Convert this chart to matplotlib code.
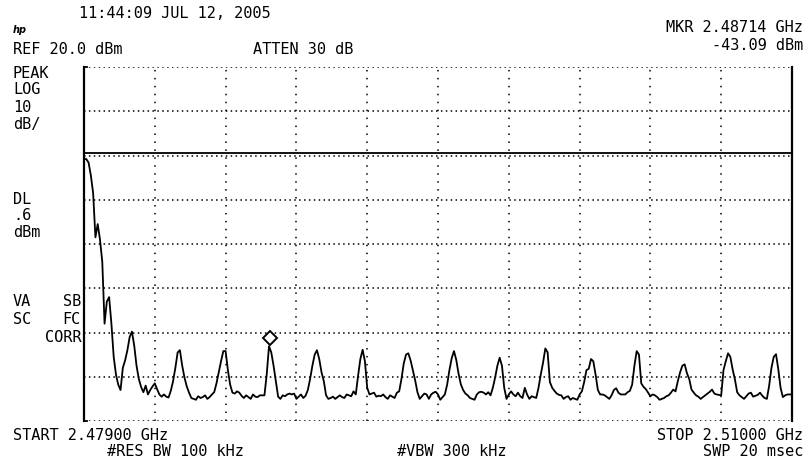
import numpy as np
import matplotlib
matplotlib.use("Agg")
import matplotlib.pyplot as plt
import matplotlib.transforms as mtransforms

# analyzer settings
start_mhz = 2479.0
stop_mhz = 2510.0
ref_dbm = 20.0
db_per_div = 10
n_vdiv = 8
dl_dbm = 0.6
mkr_mhz = 2487.14
mkr_dbm = -43.09

# trace levels (dBm), one point per 0.1 MHz
levels = [
    -0.8, -0.8, -1.6, -4.5, -8.5, -18.5, -15.5, -19.0, -24.0, -38.0,
    -33.0, -32.0, -38.0, -45.5, -49.5, -51.8, -53.0, -48.0, -46.3, -44.0,
    -41.0, -39.8, -43.0, -47.5, -50.5, -52.3, -53.5, -52.0, -54.0, -53.0,
    -52.2, -51.5, -52.8, -54.0, -54.5, -54.0, -54.5, -54.7, -53.2, -51.0,
    -48.0, -44.5, -44.0, -47.5, -50.2, -52.2, -53.6, -54.8, -55.0, -55.2,
    -54.4, -54.8, -54.6, -54.2, -55.0, -54.6, -54.0, -53.5, -51.5, -49.0,
    -46.5, -44.2, -44.2, -48.5, -51.8, -53.6, -53.8, -53.3, -53.6, -54.3,
    -54.8, -54.2, -54.6, -55.0, -54.0, -54.5, -54.6, -54.2, -54.2, -54.2,
    -49.5, -43.1, -44.5, -47.5, -51.0, -54.5, -55.0, -54.2, -54.4, -54.0,
    -53.8, -54.0, -53.8, -55.0, -54.5, -54.0, -54.8, -54.3, -53.0, -50.5,
    -47.5, -45.0, -44.0, -46.0, -49.0, -51.0, -54.2, -55.0, -54.8, -54.5,
    -55.0, -54.6, -54.2, -54.6, -54.8, -54.0, -54.2, -54.4, -53.3, -54.0,
    -49.8, -46.0, -43.9, -46.5, -52.5, -54.0, -53.8, -53.6, -54.5, -54.3,
    -54.4, -54.0, -54.6, -55.0, -54.2, -54.5, -54.8, -53.6, -53.3, -50.5,
    -47.0, -45.0, -44.7, -46.3, -48.5, -50.8, -53.5, -55.0, -54.4, -53.8,
    -54.0, -55.0, -54.0, -53.6, -53.4, -54.0, -55.2, -54.6, -54.0, -51.8,
    -48.5, -45.8, -44.2, -46.2, -49.3, -51.7, -53.0, -53.8, -54.2, -54.8,
    -55.0, -55.2, -54.0, -53.5, -53.4, -53.6, -54.0, -53.5, -54.2, -52.5,
    -50.2, -47.5, -45.7, -47.5, -52.5, -55.0, -54.0, -53.3, -54.0, -54.4,
    -53.6, -54.4, -54.8, -52.5, -54.0, -55.0, -54.4, -54.6, -54.8, -52.5,
    -49.5, -46.8, -43.6, -44.5, -51.2, -52.5, -53.2, -53.8, -54.1, -54.2,
    -55.0, -54.6, -54.4, -55.2, -54.8, -55.0, -55.2, -54.0, -53.3, -51.2,
    -48.5, -48.2, -46.0, -46.5, -49.5, -53.0, -54.0, -54.0, -54.2, -54.6,
    -55.0, -54.2, -53.0, -52.6, -53.6, -54.0, -54.0, -54.0, -53.5, -53.2,
    -51.8, -47.5, -44.2, -45.0, -51.5, -52.3, -52.8, -53.6, -54.4, -54.0,
    -54.2, -54.6, -55.2, -55.0, -54.8, -54.4, -54.2, -53.6, -52.9, -53.3,
    -51.0, -49.0, -47.5, -47.2, -49.2, -50.5, -52.9, -53.6, -54.2, -54.5,
    -55.0, -54.6, -54.2, -53.8, -53.4, -52.9, -53.8, -54.0, -54.1, -54.2,
    -48.5, -46.5, -44.7, -45.5, -48.3, -50.6, -53.5, -54.2, -54.6, -55.0,
    -54.4, -53.8, -53.6, -54.5, -54.3, -54.1, -53.6, -54.3, -54.8, -55.0,
    -52.0, -48.0, -45.5, -44.9, -48.3, -52.5, -54.6, -54.2, -54.0, -54.0,
    -54.0,
]
freqs = np.linspace(start_mhz, stop_mhz, len(levels))

W, H = 808, 466
fig = plt.figure(figsize=(W / 100, H / 100), dpi=100)
fig.patch.set_facecolor("white")

# graticule box in pixels
gx0, gx1, gy0, gy1 = 84, 792, 67, 421
ax = fig.add_axes([gx0 / W, 1 - gy1 / H, (gx1 - gx0) / W, (gy1 - gy0) / H])
bottom_dbm = ref_dbm - n_vdiv * db_per_div
ax.set_xlim(start_mhz, stop_mhz)
ax.set_ylim(bottom_dbm, ref_dbm)

dot_h = (0, (1, 2.2))
dot_v = (0, (1, 4.2))
for k in range(n_vdiv + 1):
    ax.axhline(bottom_dbm + k * db_per_div, color="black", lw=1.1, ls=dot_h, zorder=1)
span = stop_mhz - start_mhz
for k in range(1, 10):
    ax.axvline(start_mhz + k * span / 10, color="black", lw=1.1, ls=dot_v, zorder=1)

for s in ["top", "bottom"]:
    ax.spines[s].set_visible(False)
for s in ["left", "right"]:
    ax.spines[s].set_linewidth(1.6)
ax.set_xticks([])
ax.set_yticks([])

# little corner stubs at the left edge
ax.plot([start_mhz, start_mhz + 0.15], [ref_dbm, ref_dbm], color="black", lw=1.3, clip_on=False)
ax.plot([start_mhz, start_mhz + 0.15], [bottom_dbm, bottom_dbm], color="black", lw=1.3, clip_on=False)

# display line
ax.axhline(dl_dbm, color="black", lw=1.3, zorder=2)

# trace
ax.plot(freqs, levels, color="black", lw=1.3, zorder=3)

# marker diamond sits just above the peak
mk_tr = mtransforms.offset_copy(ax.transData, fig=fig, x=0, y=6, units="points")
ax.plot([mkr_mhz], [mkr_dbm], marker="D", ms=7, mfc="white", mec="black",
        mew=1.4, transform=mk_tr, zorder=4, clip_on=False)

# screen annotations
mono = "DejaVu Sans Mono"
fs = 11


def txt(x, y, s, ha="left"):
    fig.text(x / W, 1 - y / H, s, ha=ha, va="center", family=mono,
             fontsize=fs, color="black")


txt(175, 14, "11:44:09 JUL 12, 2005", ha="center")
fig.text(13 / W, 1 - 30 / H, "hp", ha="left", va="center", family="DejaVu Sans",
         fontsize=7, style="italic", fontweight="bold")
txt(13, 50, "REF 20.0 dBm")
txt(303, 50, "ATTEN 30 dB", ha="center")
txt(803, 28, "MKR 2.48714 GHz", ha="right")
txt(803, 46, "-43.09 dBm", ha="right")

txt(13, 73, "PEAK")
txt(13, 90, "LOG")
txt(13, 107, "10")
txt(13, 124, "dB/")

txt(13, 199, "DL")
txt(13, 215, ".6")
txt(13, 232, "dBm")

txt(13, 302, "VA")
txt(81, 302, "SB", ha="right")
txt(13, 320, "SC")
txt(81, 320, "FC", ha="right")
txt(81, 338, "CORR", ha="right")

txt(13, 436, "START 2.47900 GHz")
txt(803, 436, "STOP 2.51000 GHz", ha="right")
txt(175, 452, "#RES BW 100 kHz", ha="center")
txt(452, 452, "#VBW 300 kHz", ha="center")
txt(803, 452, "SWP 20 msec", ha="right")

fig.savefig("out.png", dpi=100, facecolor="white")
